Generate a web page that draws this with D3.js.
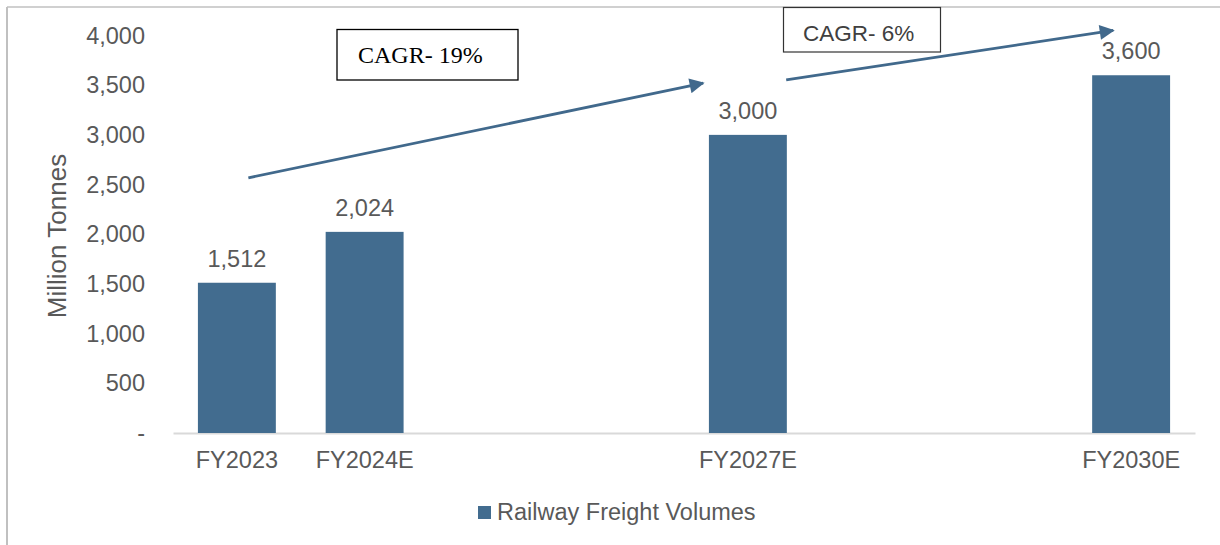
<!DOCTYPE html>
<html>
<head>
<meta charset="utf-8">
<script src="https://cdn.jsdelivr.net/npm/d3@7"></script>
<style>
  html, body { margin: 0; padding: 0; background: #fff; }
  svg { display: block; }
</style>
</head>
<body>
<script>
// ---- data ----
const categories = ["FY2023","FY2024E","FY2025E","FY2026E","FY2027E","FY2028E","FY2029E","FY2030E"];
const values     = [1512, 2024, null, null, 3000, null, null, 3600];
const tickLabels = ["FY2023","FY2024E","","","FY2027E","","","FY2030E"];
const yTicks     = [0, 500, 1000, 1500, 2000, 2500, 3000, 3500, 4000];
const seriesName = "Railway Freight Volumes";
const yTitle     = "Million Tonnes";
// CAGR arrows in data coordinates: [category index, value]
const arrowFrom  = [[0.09, 2568], [4.30, 3554]];
const arrowTo    = [[3.65, 3521], [6.86, 4051]];
const cagrLabels = ["CAGR- 19%", "CAGR- 6%"];

// ---- setup ----
const W = 1220, H = 545;
const barColor = "#426C8F";
const textColor = "#595959";
const svg = d3.select("body").append("svg").attr("width", W).attr("height", H);

// frame
svg.append("line").attr("x1", 7).attr("x2", 7).attr("y1", 7).attr("y2", H)
  .attr("stroke", "#c0c0c0").attr("stroke-width", 2);
svg.append("line").attr("x1", 7).attr("x2", W).attr("y1", 7).attr("y2", 7)
  .attr("stroke", "#c0c0c0").attr("stroke-width", 1.5);

const x = d3.scaleBand().domain(categories).range([173, 1195])
  .paddingInner(0.39).paddingOuter(0.195);
const y = d3.scaleLinear().domain([0, 4000]).range([433, 35.5]);
const xi = d3.scaleLinear().domain([0, 1])
  .range([x(categories[0]) + x.bandwidth() / 2, x(categories[1]) + x.bandwidth() / 2]);

const data = categories.map((c, i) => ({ c, v: values[i], label: tickLabels[i] }));

// y axis labels
const yAxis = d3.axisLeft(y).tickValues(yTicks).tickSize(0).tickPadding(0)
  .tickFormat(d => d === 0 ? "-" : d3.format(",")(d));
const gy = svg.append("g").attr("transform", "translate(145,0)").call(yAxis);
gy.select(".domain").remove();
gy.selectAll("text").attr("fill", textColor)
  .style("font-family", "'Liberation Sans', Arial, sans-serif").style("font-size", "23.5px");

// y title
svg.append("text")
  .attr("transform", `translate(66,${(150 + 322) / 2}) rotate(-90)`)
  .attr("text-anchor", "middle")
  .attr("fill", textColor)
  .style("font-family", "'Liberation Sans', Arial, sans-serif").style("font-size", "26px")
  .text(yTitle);

// x axis
const xAxis = d3.axisBottom(x).tickSize(0).tickPadding(0).tickFormat((d, i) => tickLabels[i]);
const gx = svg.append("g").attr("transform", "translate(0,433)").call(xAxis);
gx.select(".domain").attr("stroke", "#d9d9d9").attr("stroke-width", 2);
gx.selectAll("text").attr("fill", textColor).attr("dy", 0).attr("y", 35)
  .style("font-family", "'Liberation Sans', Arial, sans-serif").style("font-size", "23.5px");

// bars
const bd = data.filter(d => d.v != null);
svg.selectAll("rect.bar").data(bd).enter().append("rect").attr("class", "bar")
  .attr("x", d => x(d.c)).attr("width", x.bandwidth())
  .attr("y", d => y(d.v)).attr("height", d => y(0) - y(d.v))
  .attr("fill", barColor);

// value labels
svg.selectAll("text.val").data(bd).enter().append("text").attr("class", "val")
  .attr("x", d => x(d.c) + x.bandwidth() / 2)
  .attr("y", d => y(d.v) - 16)
  .attr("text-anchor", "middle").attr("fill", textColor)
  .style("font-family", "'Liberation Sans', Arial, sans-serif").style("font-size", "23.5px")
  .text(d => d3.format(",")(d.v));

// arrows
const defs = svg.append("defs");
defs.append("marker").attr("id", "arr").attr("viewBox", "0 0 10 10")
  .attr("refX", 9).attr("refY", 5).attr("markerWidth", 17).attr("markerHeight", 15)
  .attr("markerUnits", "userSpaceOnUse").attr("orient", "auto")
  .append("path").attr("d", "M0,0 L10,5 L0,10 Z").attr("fill", "#41698C");

arrowFrom.forEach((f, i) => {
  const t = arrowTo[i];
  svg.append("line")
    .attr("x1", xi(f[0])).attr("y1", y(f[1]))
    .attr("x2", xi(t[0])).attr("y2", y(t[1]))
    .attr("stroke", "#41698C").attr("stroke-width", 2.8)
    .attr("marker-end", "url(#arr)");
});

// CAGR boxes
const b1 = svg.append("g");
b1.append("rect").attr("x", 337).attr("y", 29.5).attr("width", 181).attr("height", 50.5)
  .attr("fill", "#fff").attr("stroke", "#000").attr("stroke-width", 1.3);
b1.append("text").attr("x", 358).attr("y", 63).attr("fill", "#000")
  .style("font-family", "'Liberation Serif', 'Times New Roman', serif").style("font-size", "24px")
  .text(cagrLabels[0]);

const b2 = svg.append("g");
b2.append("rect").attr("x", 783.5).attr("y", 7.5).attr("width", 157).attr("height", 44.5)
  .attr("fill", "#fff").attr("stroke", "#333").attr("stroke-width", 1.2);
b2.append("text").attr("x", 803).attr("y", 41).attr("fill", "#404040")
  .style("font-family", "'Liberation Sans', Arial, sans-serif").style("font-size", "22.5px")
  .text(cagrLabels[1]);

// legend
svg.append("rect").attr("x", 478).attr("y", 506).attr("width", 13).attr("height", 13).attr("fill", barColor);
svg.append("text").attr("x", 497).attr("y", 520).attr("fill", textColor)
  .style("font-family", "'Liberation Sans', Arial, sans-serif").style("font-size", "23.5px")
  .text(seriesName);
</script>
</body>
</html>
